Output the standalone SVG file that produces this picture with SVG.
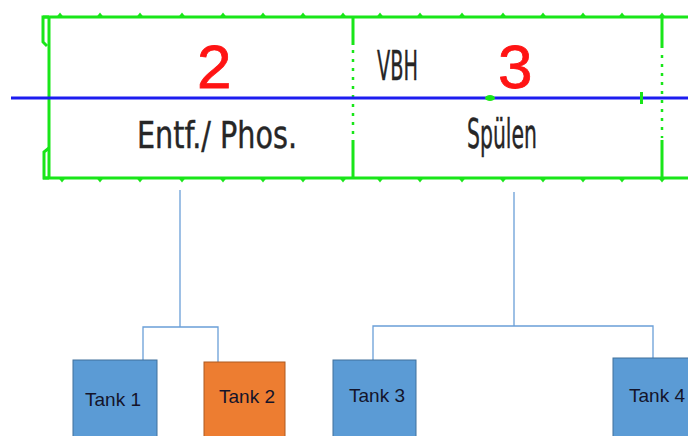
<svg xmlns="http://www.w3.org/2000/svg" width="688" height="436" viewBox="0 0 688 436">
  <style>
    .frame { fill: none; stroke: #19e619; stroke-width: 3; }
    .dash { fill: none; stroke: #19e619; stroke-width: 2.5; stroke-dasharray: 3 6; }
    .tick { fill: #19e619; }
    .axis { stroke: #1c1cf0; stroke-width: 3; }
    .num { font-family: "Liberation Sans", Arial, sans-serif; font-size: 62px; fill: #ff1414; stroke: #ff1414; stroke-width: 0.8; }
    .cad { font-family: "DejaVu Sans Condensed", "DejaVu Sans", sans-serif; fill: #262626; stroke: #262626; stroke-width: 0.4; }
    .link { fill: none; stroke: #6a9fd8; stroke-width: 1.3; }
    .tank { stroke-width: 1; }
    .blue { fill: #5b9bd5; stroke: #41719c; }
    .orange { fill: #ed7d31; stroke: #ae5a21; }
    .label { font-family: "Liberation Sans", Arial, sans-serif; font-size: 19px; fill: #14142a; text-anchor: middle; }
  </style>
  <defs>
    <path id="tickUp" d="M-3.5,0 L0,-4.5 L3.5,0 Z"/>
    <path id="tickDown" d="M-3.5,0 L0,4.5 L3.5,0 Z"/>
  </defs>

  <!-- plan frame -->
  <g id="plan">
    <line x1="43" y1="17" x2="688" y2="17" class="frame"/>
    <line x1="43" y1="178" x2="688" y2="178" class="frame"/>
    <line x1="49" y1="17" x2="49" y2="178" class="frame"/>
    <path d="M49,17 H43 V42 L47,46 M49,148 L44,152 V178 H49" class="frame" stroke-width="2.5"/>
    <!-- section dividers -->
    <path d="M353,17 V45 M353,140 V178" class="frame"/>
    <line x1="353" y1="50" x2="353" y2="138" class="dash"/>
    <path d="M662,17 V48 M662,140 V178" class="frame"/>
    <line x1="662" y1="55" x2="662" y2="138" class="dash"/>
    <!-- frame ticks -->
    <g class="tick">
      <use href="#tickUp" x="60" y="17"/><use href="#tickUp" x="100" y="17"/>
      <use href="#tickUp" x="140" y="17"/><use href="#tickUp" x="182" y="17"/>
      <use href="#tickUp" x="223" y="17"/><use href="#tickUp" x="263" y="17"/>
      <use href="#tickUp" x="303" y="17"/><use href="#tickUp" x="343" y="17"/>
      <use href="#tickUp" x="380" y="17"/><use href="#tickUp" x="420" y="17"/>
      <use href="#tickUp" x="462" y="17"/><use href="#tickUp" x="503" y="17"/>
      <use href="#tickUp" x="543" y="17"/><use href="#tickUp" x="583" y="17"/>
      <use href="#tickUp" x="622" y="17"/><use href="#tickUp" x="662" y="17"/>
      <use href="#tickDown" x="62" y="178"/><use href="#tickDown" x="100" y="178"/>
      <use href="#tickDown" x="140" y="178"/><use href="#tickDown" x="182" y="178"/>
      <use href="#tickDown" x="223" y="178"/><use href="#tickDown" x="263" y="178"/>
      <use href="#tickDown" x="303" y="178"/><use href="#tickDown" x="343" y="178"/>
      <use href="#tickDown" x="380" y="178"/><use href="#tickDown" x="420" y="178"/>
      <use href="#tickDown" x="462" y="178"/><use href="#tickDown" x="503" y="178"/>
      <use href="#tickDown" x="543" y="178"/><use href="#tickDown" x="583" y="178"/>
      <use href="#tickDown" x="622" y="178"/><use href="#tickDown" x="662" y="178"/>
    </g>
    <!-- axis line -->
    <line x1="11" y1="98" x2="688" y2="98" class="axis"/>
    <ellipse cx="490" cy="98" rx="5" ry="3" class="tick"/>
    <rect x="640" y="92" width="3" height="12" class="tick"/>
    <!-- section labels -->
    <text x="197" y="88" class="num">2</text>
    <text x="498" y="88" class="num">3</text>
    <text x="377" y="80" class="cad" font-size="41" textLength="41" lengthAdjust="spacingAndGlyphs">VBH</text>
    <text x="137" y="148" class="cad" font-size="38" textLength="160" lengthAdjust="spacingAndGlyphs">Entf./ Phos.</text>
    <text x="467" y="148" class="cad" font-size="40" textLength="70" lengthAdjust="spacingAndGlyphs">Spülen</text>
  </g>

  <!-- connectors -->
  <g id="connectors">
    <path d="M180,190 V327 M143,360 V327 H218 V362" class="link"/>
    <path d="M514,192 V326 M373,360 V326 H653 V358" class="link"/>
  </g>

  <!-- tanks -->
  <g id="tank1">
    <rect x="73" y="360" width="84" height="82" class="tank blue"/>
    <text x="113" y="406" class="label">Tank 1</text>
  </g>
  <g id="tank2">
    <rect x="204" y="362" width="81" height="80" class="tank orange"/>
    <text x="247" y="403" class="label">Tank 2</text>
  </g>
  <g id="tank3">
    <rect x="333" y="360" width="83" height="82" class="tank blue"/>
    <text x="377" y="402" class="label">Tank 3</text>
  </g>
  <g id="tank4">
    <rect x="613" y="358" width="82" height="84" class="tank blue"/>
    <text x="657" y="402" class="label">Tank 4</text>
  </g>
</svg>
